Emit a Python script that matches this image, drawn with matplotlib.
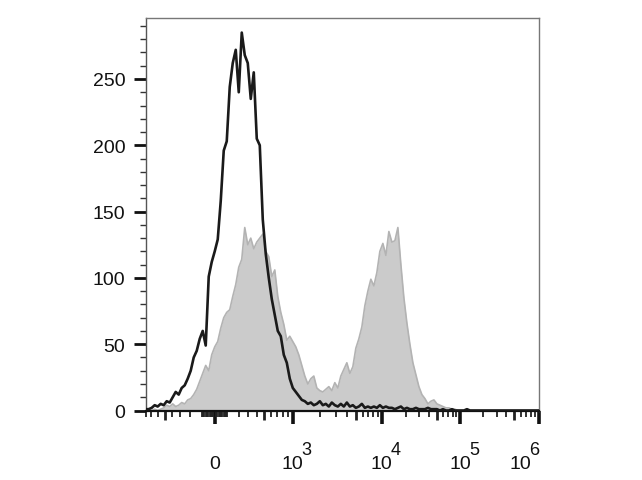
import numpy as np
import matplotlib
matplotlib.use("Agg")
import matplotlib.pyplot as plt
from matplotlib import font_manager
from matplotlib.ticker import FixedLocator
from matplotlib.transforms import ScaledTranslation

# narrow face if we have one, the labels in the picture are tall and thin
installed = {f.name for f in font_manager.fontManager.ttflist}
face = "Liberation Sans Narrow" if "Liberation Sans Narrow" in installed else "Liberation Sans"
plt.rcParams["font.family"] = [face, "DejaVu Sans"]

# counts per channel (channels are evenly spaced on the biex axis)
black_counts = [
    1, 1, 2, 4, 3, 5, 4, 7, 6, 10, 14, 12, 17, 19, 24, 30, 40, 45, 54, 60,
    49, 101, 112, 120, 129, 158, 196, 203, 244, 262, 272, 240, 285, 268, 262, 235, 255, 205, 200, 144,
    118, 100, 84, 72, 60, 56, 42, 36, 24, 17, 14, 11, 8, 7, 5, 6, 4, 5, 7, 4,
    5, 3, 6, 4, 3, 5, 3, 6, 3, 4, 2, 3, 5, 2, 3, 2, 3, 2, 4, 2,
    3, 2, 2, 1, 2, 3, 1, 2, 1, 1, 2, 1, 1, 1, 2, 1, 1, 1, 0, 1,
    0, 0, 1, 0, 0, 0, 0, 1, 0, 0, 0, 0, 0, 0, 0, 0, 0, 0, 0, 0,
    0, 0, 0, 0, 0, 0, 0, 0, 0, 0, 0, 0,
]
gray_counts = [
    0, 0, 0, 1, 0, 1, 2, 4, 3, 5, 3, 4, 6, 5, 8, 9, 12, 16, 22, 28,
    34, 30, 42, 48, 52, 62, 70, 74, 76, 86, 95, 108, 114, 138, 125, 130, 122, 127, 130, 133,
    120, 116, 101, 106, 86, 74, 65, 53, 56, 52, 48, 42, 34, 26, 20, 24, 26, 17, 15, 14,
    16, 18, 15, 21, 17, 26, 31, 36, 28, 33, 47, 54, 63, 79, 90, 99, 94, 104, 120, 126,
    117, 135, 127, 128, 138, 110, 85, 66, 50, 36, 27, 18, 12, 9, 5, 7, 8, 5, 4, 3,
    2, 2, 1, 1, 0, 0, 0, 0, 0, 0, 0, 0, 0, 0, 0, 0, 0, 0, 0, 0,
    0, 0, 0, 0, 0, 0, 0, 0, 0, 0, 0, 0,
]
x_tick_vals = [0, 1e3, 1e4, 1e5, 1e6]
x_tick_base = ["0", "10", "10", "10", "10"]
x_tick_exp = ["", "3", "4", "5", "6"]
y_tick_vals = [0, 50, 100, 150, 200, 250]

# biexponential-like display scale, pinned to the reference tick positions
BIEX_W = 300.0
ANCHOR_V = np.array([-1e4, -1e3, -500, 0, 500, 1e3, 5e3, 1e4, 5e4, 1e5, 5e5, 1e6, 1e7])
ANCHOR_D = np.array([37, 137, 165, 215, 264, 293, 356, 382, 437, 460, 514, 539, 617], float)
ANCHOR_U = np.arcsinh(ANCHOR_V / BIEX_W)


def biex_fwd(x):
    return np.interp(np.arcsinh(np.asarray(x, float) / BIEX_W), ANCHOR_U, ANCHOR_D)


def biex_inv(d):
    return BIEX_W * np.sinh(np.interp(np.asarray(d, float), ANCHOR_D, ANCHOR_U))


chan = biex_inv(146 + 3 * np.arange(len(black_counts)))

fig = plt.figure(figsize=(6.42, 4.81), dpi=100)
ax = fig.add_axes([146 / 642, 1 - 411.5 / 481, 393 / 642, 392.5 / 481])
ax.set_xscale("function", functions=(biex_fwd, biex_inv))

ax.fill_between(chan, 0, gray_counts, color="#cbcbcb", lw=0, zorder=1)
ax.plot(chan, gray_counts, color="#b3b3b3", lw=1.2, zorder=2)
ax.plot(chan, black_counts, color="#1a1a1a", lw=1.9, zorder=3)

ax.set_xlim(-800, 1e6)
ax.set_ylim(0, 296)

# x ticks: decades long, 5x medium, the rest short
minor = []
for k in range(1, 6):
    for m in range(2, 10):
        minor.append(m * 10 ** k)
minor += [m * 10 for m in range(1, 10)] + [-m * 10 for m in range(1, 10)]
minor += [-m * 100 for m in range(1, 9)]
minor += [100]
minor = sorted(set(v for v in minor if v >= -800 and v not in x_tick_vals))
ax.xaxis.set_major_locator(FixedLocator(x_tick_vals))
ax.xaxis.set_minor_locator(FixedLocator(minor))
ax.tick_params(axis="x", which="major", direction="out", length=9, width=2.6,
               labelbottom=False, color="#111111")
ax.tick_params(axis="x", which="minor", direction="out", length=4.5, width=1.3, color="#222222")
for tk, v in zip(ax.xaxis.get_minor_ticks(len(minor)), minor):
    if abs(v) in (500, 5e3, 5e4, 5e5):
        tk.tick1line.set_markersize(6.5)
        tk.tick1line.set_markeredgewidth(2)

# decade labels: "10" with a full size raised exponent, last one pulled inside
xtr = ax.get_xaxis_transform()
for i, (v, base, ex) in enumerate(zip(x_tick_vals, x_tick_base, x_tick_exp)):
    shift = -19 if i == len(x_tick_vals) - 1 else 0
    ax.text(v, -0.1465, base, transform=xtr + ScaledTranslation(shift / 100, 0, fig.dpi_scale_trans),
            ha="center", va="baseline", fontsize=14, color="#111111")
    if ex:
        ax.text(v, -0.111, ex, ha="left", va="baseline", fontsize=13, color="#111111",
                transform=xtr + ScaledTranslation((shift + 9) / 100, 0, fig.dpi_scale_trans))

ax.yaxis.set_major_locator(FixedLocator(y_tick_vals))
ax.yaxis.set_minor_locator(FixedLocator([v for v in range(0, 296, 10) if v % 50]))
ax.tick_params(axis="y", which="major", direction="out", length=9, width=2, pad=6,
               labelsize=14, labelcolor="#111111", color="#111111")
ax.tick_params(axis="y", which="minor", direction="out", length=4.5, width=1, color="#333333")

for side in ("top", "right"):
    ax.spines[side].set_color("#777777")
    ax.spines[side].set_linewidth(1)
ax.spines["left"].set_color("#555555")
ax.spines["left"].set_linewidth(1)
ax.spines["bottom"].set_color("#111111")
ax.spines["bottom"].set_linewidth(1.6)

fig.savefig("out.png", dpi=100)
